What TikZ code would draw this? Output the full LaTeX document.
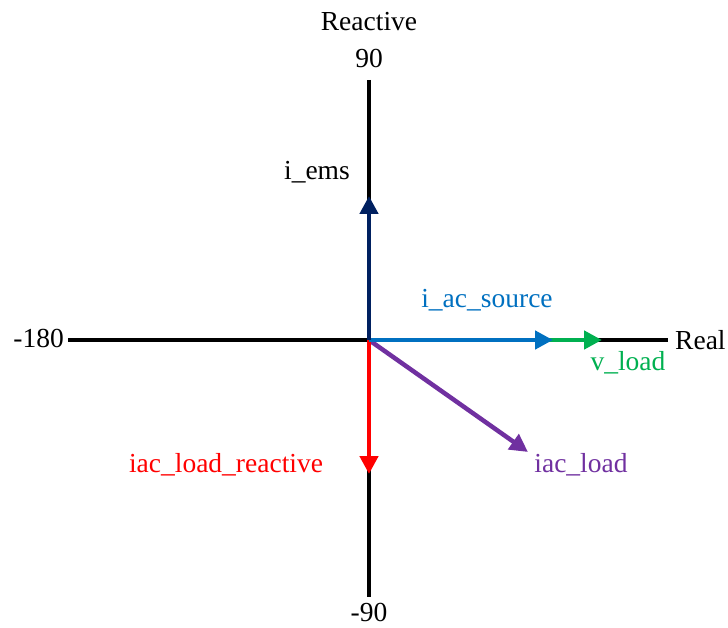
\documentclass[tikz,border=0pt]{standalone}
\usepackage{fontspec}
\setmainfont{Liberation Serif}
\usetikzlibrary{arrows.meta}
\definecolor{cems}{RGB}{0,32,96}
\definecolor{csrc}{RGB}{0,112,192}
\definecolor{cvl}{RGB}{0,176,80}
\definecolor{cload}{RGB}{112,48,160}
\definecolor{creact}{RGB}{255,0,0}
\begin{document}
\begin{tikzpicture}[x=1pt,y=-1pt,
  lbl/.style={inner sep=0pt,font=\fontsize{27.5}{30}\selectfont},
  axisline/.style={line width=3.5pt,black},
  vec/.style={line width=4.5pt,-{Triangle[length=18pt,width=18pt]}}]
\useasboundingbox (0,0) rectangle (728,628);
\coordinate (O) at (369,340);
\coordinate (L) at (68,340);
\coordinate (R) at (668,340);
\coordinate (T) at (369,80);
\coordinate (B) at (369,597);
\draw[axisline] (L) -- (R);
\draw[axisline] (T) -- (B);
\node[lbl] (reactive) at (369,22) {Reactive};
\node[lbl] (n90) at (369,58) {90};
\node[lbl,anchor=base] (nm90) at (369,621) {-90};
\node[lbl,anchor=east] (nm180) at (64,338) {-180};
\node[lbl,anchor=west] (real) at (675,340) {Real};
\coordinate (Tems) at (369,196);
\coordinate (Tsrc) at (553,340);
\coordinate (Tvl) at (602,340);
\coordinate (Tload) at (528,452);
\coordinate (Treact) at (369,474);
\draw[vec,cload] (O) -- (Tload);
\draw[vec,creact] (O) -- (Treact);
\draw[vec,cvl] (O) -- (Tvl);
\draw[vec,csrc] (O) -- (Tsrc);
\draw[vec,cems] (O) -- (Tems);
\node[lbl,anchor=east,black] (lems) at (350,172) {i\_ems};
\node[lbl,csrc] (lsrc) at (487,300) {i\_ac\_source};
\node[lbl,cvl] (lvl) at (628,363) {v\_load};
\node[lbl,cload] (lload) at (581,465) {iac\_load};
\node[lbl,creact] (lreact) at (226,465) {iac\_load\_reactive};
\end{tikzpicture}
\end{document}
